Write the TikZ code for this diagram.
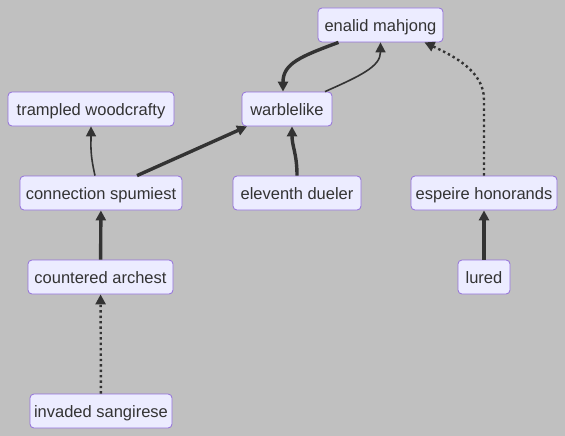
\documentclass[tikz,border=0pt]{standalone}
\usepackage{fontspec}
\setmainfont{Liberation Sans}
\usetikzlibrary{arrows.meta}
\definecolor{bgray}{HTML}{C0C0C0}
\definecolor{boxfill}{HTML}{ECECFF}
\definecolor{boxline}{HTML}{9370DB}
\definecolor{ink}{HTML}{333333}
\begin{document}
\begin{tikzpicture}[x=1pt, y=-1pt, font=\fontsize{16.5}{19}\selectfont,
    box/.style={draw=boxline, fill=boxfill, thick, rounded corners=4pt, text=ink,
        minimum height=34pt, inner xsep=2pt, text height=12.5pt, text depth=0pt},
    link/.style={draw=ink, line width=1.6pt, -{Triangle[length=10pt, width=10pt]}},
    heavy/.style={link, line width=3.4pt},
    dots/.style={link, line width=2.4pt, dash pattern=on 2.4pt off 3pt}]
    % achtergrond, vast kader
    \fill [bgray] (0,0) rectangle (565,436);
    % knopen
    \node [box, minimum width=125pt] (enalid)     at (380.5,25) {enalid mahjong};
    \node [box, minimum width=166pt] (trampled)   at (91,109)   {trampled woodcrafty};
    \node [box, minimum width=90pt]  (warble)     at (287,109)  {warblelike};
    \node [box, minimum width=162pt] (connection) at (101,193)  {connection spumiest};
    \node [box, minimum width=128pt] (eleventh)   at (297,193)  {eleventh dueler};
    \node [box, minimum width=146pt] (espeire)    at (484,193)  {espeire honorands};
    \node [box, minimum width=145pt] (countered)  at (100.5,277) {countered archest};
    \node [box, minimum width=52pt]  (lured)      at (484,277)  {lured};
    \node [box, minimum width=142pt] (invaded)    at (101,411)  {invaded sangirese};
    % lus tussen enalid en warblelike
    \draw [heavy] ([xshift=-42pt]enalid.south)
        .. controls +(-38,14) and +(0,-28) .. ([xshift=-4pt]warble.north);
    \draw [link] ([xshift=38pt]warble.north)
        .. controls +(36,-16) and +(0,24) .. (enalid.south);
    % naar boven vanuit connection
    \draw [link] ([xshift=-6pt]connection.north)
        .. controls +(-5,-22) and +(0,20) .. (trampled.south);
    \draw [heavy] ([xshift=36pt]connection.north) -- ([xshift=-40pt]warble.south);
    \draw [heavy] (eleventh.north)
        .. controls +(0,-22) and +(0,20) .. ([xshift=5pt]warble.south);
    % rechter tak
    \draw [dots] (espeire.north) -- ++(0,-76)
        .. controls +(0,-28) and +(30,14) .. ([xshift=44pt]enalid.south);
    \draw [heavy] (lured) -- (espeire);
    % linker kolom
    \draw [heavy] (countered) -- (connection);
    \draw [dots] (invaded) -- (countered);
\end{tikzpicture}
\end{document}
